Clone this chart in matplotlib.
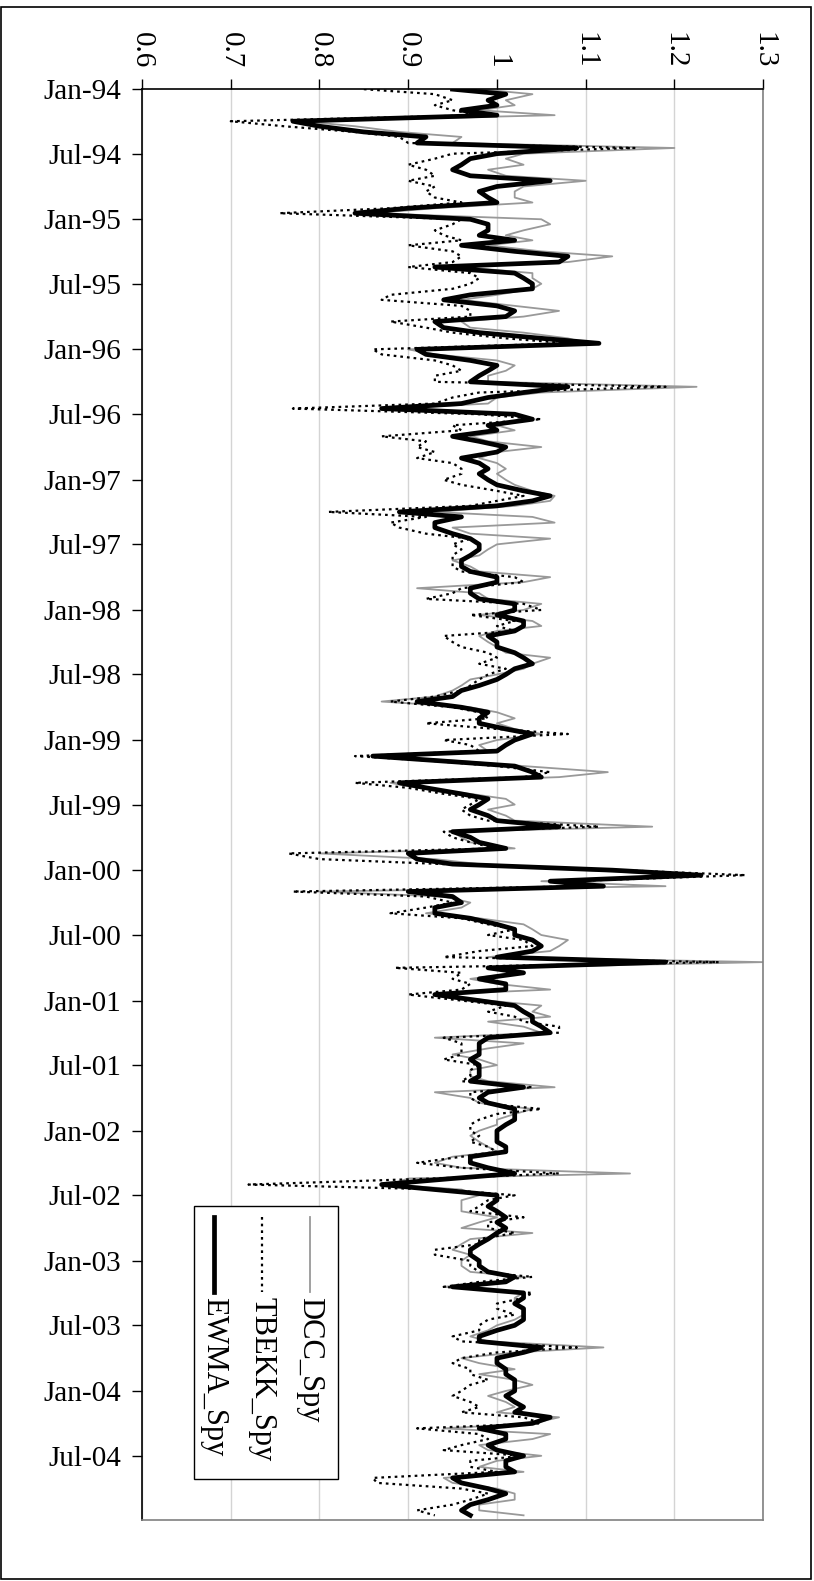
import numpy as np
import pandas as pd
import matplotlib
matplotlib.use("Agg")
import matplotlib.pyplot as plt
import matplotlib.dates as mdates
from matplotlib.patches import Rectangle
from matplotlib.lines import Line2D
from datetime import datetime

plt.rcParams['font.family'] = ['Liberation Serif', 'DejaVu Serif']

# semi-monthly observations, Jan 1994 - Dec 2004
dates = pd.date_range('1994-01-01', periods=264, freq='SMS')

ewma = [
    0.95, 1.01, 0.99, 1.00, 0.96, 1.00, 0.77, 0.80, 0.85, 0.92, 0.91, 1.09,
    1.00, 0.97, 0.96, 0.95, 0.97, 1.06, 1.00, 0.98, 0.99, 1.00, 0.90, 0.84,
    0.97, 0.99, 0.99, 0.98, 1.02, 0.96, 1.02, 1.08, 1.07, 0.93, 1.02, 1.03,
    1.04, 1.04, 0.97, 0.94, 1.00, 1.02, 1.01, 0.93, 0.94, 0.98, 1.05, 1.115,
    0.91, 0.92, 0.97, 1.00, 0.99, 0.98, 0.97, 1.08, 1.03, 0.99, 0.96, 0.87,
    1.02, 1.04, 0.99, 1.00, 0.95, 0.98, 1.01, 1.00, 0.96, 0.98, 0.99, 0.98,
    0.99, 1.00, 1.03, 1.06, 1.04, 1.00, 0.89, 0.96, 0.93, 0.93, 0.95, 0.97,
    0.98, 0.98, 0.97, 0.96, 0.96, 0.97, 1.00, 1.00, 0.97, 0.97, 0.98, 1.02,
    1.02, 1.00, 1.03, 1.03, 1.02, 0.99, 1.00, 1.00, 1.02, 1.03, 1.04, 1.02,
    1.01, 1.00, 0.98, 0.96, 0.95, 0.91, 0.96, 0.99, 0.98, 0.98, 1.01, 1.04,
    1.02, 1.01, 1.00, 0.86, 0.94, 1.02, 1.04, 1.05, 0.89, 0.92, 0.96, 0.99,
    0.98, 0.97, 0.99, 1.00, 1.07, 0.95, 0.97, 0.98, 1.01, 0.90, 0.91, 0.95,
    1.13, 1.23, 1.06, 1.12, 0.90, 0.95, 0.96, 0.93, 0.93, 0.97, 1.00, 1.02,
    1.02, 1.04, 1.05, 1.04, 1.00, 1.19, 0.99, 1.03, 0.98, 1.01, 1.01, 0.93,
    0.98, 1.02, 1.03, 1.04, 1.04, 1.05, 1.06, 0.99, 0.98, 0.98, 0.98, 0.97,
    0.98, 0.98, 0.98, 0.97, 1.03, 0.99, 0.98, 0.99, 1.02, 1.02, 1.02, 1.01,
    1.00, 1.00, 1.00, 1.01, 1.01, 0.97, 0.97, 0.99, 1.02, 0.95, 0.87, 0.93,
    1.00, 1.00, 0.99, 1.00, 1.01, 1.00, 1.01, 1.00, 0.99, 0.98, 0.97, 0.97,
    0.98, 0.98, 0.99, 1.02, 1.01, 0.95, 1.03, 1.03, 1.02, 1.03, 1.03, 1.03,
    1.02, 1.00, 0.98, 0.98, 1.05, 1.03, 1.00, 1.00, 1.01, 1.01, 1.02, 1.02,
    1.02, 1.01, 1.02, 1.03, 1.02, 1.06, 1.04, 0.98, 1.01, 1.01, 0.99, 1.00,
    1.03, 1.01, 1.01, 1.02, 0.95, 0.96, 0.99, 1.01, 0.99, 0.97, 0.96, 0.97,
]

dcc = [
    0.98, 1.04, 1.01, 1.02, 0.98, 1.065, 0.78, 0.84, 0.89, 0.96, 0.95, 1.20,
    1.03, 1.01, 1.03, 0.99, 1.01, 1.10, 1.03, 1.02, 1.02, 1.04, 0.93, 0.86,
    1.05, 1.06, 1.03, 1.01, 1.04, 0.99, 1.05, 1.13, 1.08, 0.96, 1.04, 1.04,
    1.05, 1.04, 1.00, 0.96, 1.02, 1.07, 1.03, 0.96, 0.97, 1.03, 1.08, 1.10,
    0.90, 0.93, 1.00, 1.02, 1.01, 0.99, 0.99, 1.225, 1.05, 1.00, 0.99, 0.88,
    1.02, 1.04, 1.00, 1.02, 0.97, 0.99, 1.05, 1.00, 0.98, 1.00, 1.01, 1.00,
    1.01, 1.02, 1.04, 1.065, 1.06, 1.02, 0.93, 1.04, 1.065, 0.95, 0.97, 1.06,
    1.00, 0.99, 0.98, 0.95, 0.97, 0.98, 1.06, 1.03, 0.91, 0.98, 0.99, 1.05,
    1.03, 0.98, 1.04, 1.05, 1.00, 0.98, 0.99, 1.00, 1.01, 1.06, 1.04, 1.03,
    1.00, 0.97, 0.96, 0.95, 0.93, 0.87, 0.97, 1.00, 1.02, 1.00, 1.02, 1.05,
    1.00, 0.98, 0.99, 0.86, 0.96, 1.03, 1.125, 1.07, 0.88, 0.91, 0.97, 1.01,
    1.02, 0.99, 1.01, 1.02, 1.175, 0.95, 0.96, 0.97, 1.02, 0.80, 0.93, 0.98,
    1.10, 1.22, 1.05, 1.19, 0.80, 0.94, 0.97, 0.96, 0.92, 0.98, 1.03, 1.04,
    1.05, 1.08, 1.07, 1.06, 0.99, 1.30, 0.99, 1.02, 0.97, 1.00, 1.06, 0.93,
    0.99, 1.05, 1.04, 1.06, 0.99, 1.03, 1.05, 0.93, 1.03, 0.99, 0.95, 0.98,
    1.00, 0.97, 0.97, 0.99, 1.065, 0.93, 0.97, 0.98, 1.04, 1.02, 1.00, 1.00,
    0.98, 0.97, 0.98, 0.99, 1.00, 0.95, 0.93, 0.96, 1.15, 0.90, 0.88, 0.96,
    0.98, 0.96, 0.96, 0.96, 1.00, 0.98, 0.96, 1.04, 0.97, 0.96, 0.95, 0.97,
    0.96, 0.96, 0.97, 1.03, 1.00, 0.94, 1.03, 1.02, 1.02, 1.03, 1.03, 1.02,
    1.00, 0.99, 0.97, 0.99, 1.12, 1.02, 0.96, 0.98, 1.02, 0.98, 1.02, 1.04,
    1.01, 0.99, 1.01, 1.02, 1.00, 1.07, 1.04, 0.94, 1.06, 1.04, 0.98, 0.99,
    1.05, 1.00, 0.98, 1.03, 0.94, 0.95, 1.00, 1.02, 1.02, 0.98, 0.98, 1.03,
]

tbekk = [
    0.85, 0.93, 0.95, 0.93, 0.95, 0.98, 0.70, 0.76, 0.84, 0.89, 0.90, 1.155,
    0.95, 0.93, 0.90, 0.92, 0.93, 0.90, 0.93, 0.92, 0.93, 0.96, 0.88, 0.755,
    0.96, 0.95, 0.93, 0.94, 0.96, 0.90, 0.95, 0.96, 0.95, 0.90, 0.97, 0.98,
    0.97, 0.95, 0.88, 0.87, 0.96, 0.97, 0.97, 0.88, 0.92, 0.95, 1.01, 1.08,
    0.86, 0.87, 0.93, 0.95, 0.96, 0.93, 0.93, 1.19, 0.98, 0.95, 0.93, 0.77,
    0.98, 1.05, 0.95, 0.96, 0.87, 0.92, 0.91, 0.93, 0.91, 0.95, 0.96, 0.96,
    0.94, 0.96, 1.00, 1.03, 1.00, 0.97, 0.81, 0.92, 0.88, 0.89, 0.92, 0.97,
    0.95, 0.96, 0.95, 0.95, 0.95, 0.96, 1.02, 1.03, 0.96, 0.95, 0.92, 1.03,
    1.05, 0.97, 1.02, 1.00, 1.02, 0.94, 0.95, 0.96, 0.99, 1.00, 0.98, 1.01,
    0.99, 0.98, 0.97, 0.96, 0.93, 0.88, 0.95, 0.98, 0.99, 0.92, 1.00, 1.08,
    0.94, 0.97, 0.98, 0.84, 0.93, 1.00, 1.06, 1.03, 0.84, 0.90, 0.94, 0.98,
    0.97, 0.96, 0.97, 0.99, 1.115, 0.94, 0.95, 0.97, 1.00, 0.765, 0.80, 0.94,
    1.14, 1.28, 1.08, 1.10, 0.77, 0.92, 0.95, 0.92, 0.88, 0.96, 0.99, 1.02,
    0.99, 1.03, 1.04, 0.98, 0.94, 1.25, 0.885, 0.96, 0.95, 0.97, 0.96, 0.90,
    0.96, 1.01, 0.99, 1.02, 1.03, 1.07, 1.07, 0.94, 0.96, 0.96, 0.96, 0.94,
    0.98, 0.97, 0.97, 0.96, 1.04, 0.97, 0.97, 0.98, 1.05, 1.00, 0.98, 0.97,
    0.97, 0.98, 0.97, 0.99, 1.00, 0.96, 0.91, 0.96, 1.07, 0.93, 0.72, 0.94,
    1.02, 0.99, 0.98, 0.97, 1.03, 0.99, 0.99, 1.02, 0.98, 0.98, 0.93, 0.93,
    0.97, 0.97, 0.98, 1.04, 0.98, 0.94, 1.04, 1.03, 1.00, 1.00, 1.02, 0.99,
    0.98, 0.98, 0.95, 0.96, 1.09, 1.00, 0.96, 0.95, 0.97, 0.97, 0.99, 0.97,
    0.96, 0.95, 0.97, 0.98, 0.96, 1.03, 1.05, 0.91, 0.98, 0.99, 0.96, 0.94,
    1.03, 0.97, 0.97, 1.00, 0.86, 0.865, 0.96, 0.99, 0.97, 0.95, 0.91, 0.93,
]

value_ticks = [0.6, 0.7, 0.8, 0.9, 1.0, 1.1, 1.2, 1.3]
value_labels = ['0.6', '0.7', '0.8', '0.9', '1', '1.1', '1.2', '1.3']
series_names = ['DCC_Spy', 'TBEKK_Spy', 'EWMA_Spy']

fig = plt.figure(figsize=(8.14, 15.81), dpi=100)
ax = fig.add_axes([0.1745, 0.0386, 0.763, 0.905])

ax.plot(dcc, dates, color='#999999', lw=1.3, zorder=2)
ax.plot(tbekk, dates, color='black', lw=1.6, ls=(0, (1.2, 1.8)), zorder=3)
ax.plot(ewma, dates, color='black', lw=3.4, zorder=4)

ax.set_xlim(0.6, 1.3)
ax.set_ylim(datetime(2004, 12, 28), datetime(1994, 1, 1))

ax.xaxis.tick_top()
ax.set_xticks(value_ticks)
ax.set_xticklabels(value_labels, rotation=-90, fontsize=21)
ax.tick_params(axis='x', direction='out', length=7, width=1, pad=8)
ax.xaxis.grid(True, color='#d4d4d4', lw=1)
ax.set_axisbelow(True)

ax.yaxis.set_major_locator(mdates.MonthLocator(bymonth=[1, 7]))
ax.yaxis.set_major_formatter(mdates.DateFormatter('%b-%y'))
ax.yaxis.set_minor_locator(plt.NullLocator())
ax.tick_params(axis='y', direction='out', length=7, width=1, pad=8, labelsize=21)

ax.spines['top'].set_color('black')
ax.spines['left'].set_color('black')
ax.spines['right'].set_color('#808080')
ax.spines['bottom'].set_color('#808080')
for s in ax.spines.values():
    s.set_linewidth(1.2)

# legend drawn by hand so that its text can be rotated like the chart
ax.add_patch(Rectangle((0.0837, 0.0287), 0.2319, 0.1908, transform=ax.transAxes,
                       facecolor='white', edgecolor='black', lw=1, zorder=10))
styles = [dict(color='#999999', lw=1.3),
          dict(color='black', lw=1.6, ls=(0, (1.2, 1.8))),
          dict(color='black', lw=3.4)]
xpos = [0.2705, 0.1932, 0.1159]
for name, st, xp in zip(series_names, styles, xpos):
    ax.add_artist(Line2D([xp, xp], [0.2118, 0.1594], transform=ax.transAxes,
                         zorder=11, **st))
    ax.text(xp, 0.1559, name, transform=ax.transAxes, rotation=-90,
            ha='center', va='top', fontsize=22, zorder=11)

# outer chart border
fig.patches.append(Rectangle((1 / 814, 2 / 1581), 810 / 814, 1572 / 1581,
                             transform=fig.transFigure, fill=False,
                             edgecolor='black', lw=1.2))

fig.savefig('out.png', dpi=100)
